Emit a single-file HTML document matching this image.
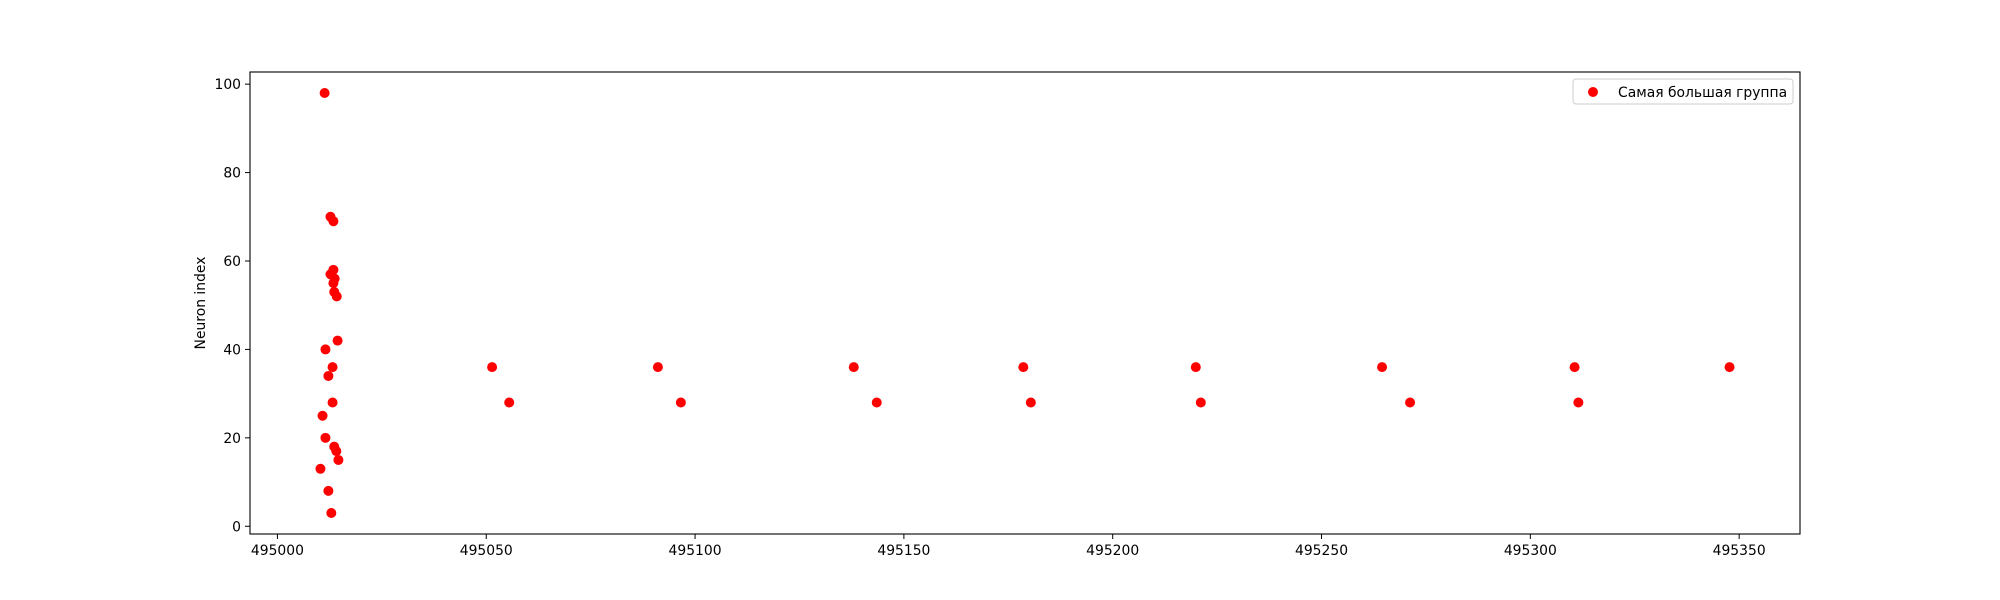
<!DOCTYPE html>
<html><head><meta charset="utf-8"><style>
body{margin:0;background:#fff}
svg{display:block;font-family:"DejaVu Sans","Liberation Sans",sans-serif}
</style></head><body>
<svg id="chart" width="2000" height="600" viewBox="0 0 2000 600">
<rect width="2000" height="600" fill="#fff"/>
<g id="marks"></g>
<rect x="250" y="72" width="1550" height="462" fill="none" stroke="#000" stroke-width="1.1"/>
<g id="xticks"></g><g id="yticks"></g>
<text x="205" y="303" transform="rotate(-90 205 303)" text-anchor="middle" font-size="13.9">Neuron index</text>
<g>
<rect x="1573" y="79" width="220" height="25" rx="3" fill="#fff" fill-opacity="0.8" stroke="#ccc"/>
<circle cx="1593" cy="92" r="5" fill="#ff0000"/>
<text x="1618" y="97" font-size="13.9">Самая большая группа</text>
</g>
</svg>
<script>
const xVals=[11.3,12.7,13.4,13.4,12.7,13.7,13.4,13.6,14.2,14.4,11.5,13.2,12.2,13.2,10.8,11.5,13.6,14.1,14.6,10.3,12.2,12.9,
51.4,55.5,91.1,96.6,138.0,143.5,178.6,180.4,219.9,221.1,264.5,271.2,310.6,311.5,347.7];
const yVals=[98,70,69,58,57,56,55,53,52,42,40,36,34,28,25,20,18,17,15,13,8,3,
36,28,36,28,36,28,36,28,36,28,36,28,36,28,36];
const xBase=495000;
const xTickVals=[495000,495050,495100,495150,495200,495250,495300,495350];
const yTickVals=[0,20,40,60,80,100];
const L=250,R=1800,T=72,B=534;
const xs=xVals.map(v=>v+xBase);
const xmin0=Math.min(...xs),xmax0=Math.max(...xs),ymin0=Math.min(...yVals),ymax0=Math.max(...yVals);
const xm=(xmax0-xmin0)*0.05,ym=(ymax0-ymin0)*0.05;
const xmin=xmin0-xm,xmax=xmax0+xm,ymin=ymin0-ym,ymax=ymax0+ym;
const sx=v=>L+(v-xmin)/(xmax-xmin)*(R-L);
const sy=v=>B-(v-ymin)/(ymax-ymin)*(B-T);
const NS="http://www.w3.org/2000/svg";
const marks=document.getElementById('marks');
xs.forEach((x,i)=>{const c=document.createElementNS(NS,'circle');
c.setAttribute('cx',sx(x));c.setAttribute('cy',sy(yVals[i]));c.setAttribute('r',5);c.setAttribute('fill','#ff0000');


marks.appendChild(c);});
const xt=document.getElementById('xticks');
xTickVals.forEach(v=>{const x=sx(v);
const l=document.createElementNS(NS,'line');l.setAttribute('x1',x);l.setAttribute('x2',x);l.setAttribute('y1',B);l.setAttribute('y2',B+5);l.setAttribute('stroke','#000');


xt.appendChild(l);
const t=document.createElementNS(NS,'text');t.setAttribute('x',x);t.setAttribute('y',B+21);t.setAttribute('text-anchor','middle');t.setAttribute('font-size','13.9');t.textContent=v;


xt.appendChild(t);});
const yt=document.getElementById('yticks');
yTickVals.forEach(v=>{const y=sy(v);
const l=document.createElementNS(NS,'line');l.setAttribute('x1',L-5);l.setAttribute('x2',L);l.setAttribute('y1',y);l.setAttribute('y2',y);l.setAttribute('stroke','#000');


yt.appendChild(l);
const t=document.createElementNS(NS,'text');t.setAttribute('x',L-9);t.setAttribute('y',y+5);t.setAttribute('text-anchor','end');t.setAttribute('font-size','13.9');t.textContent=v;


yt.appendChild(t);});
</script>
</body></html>
